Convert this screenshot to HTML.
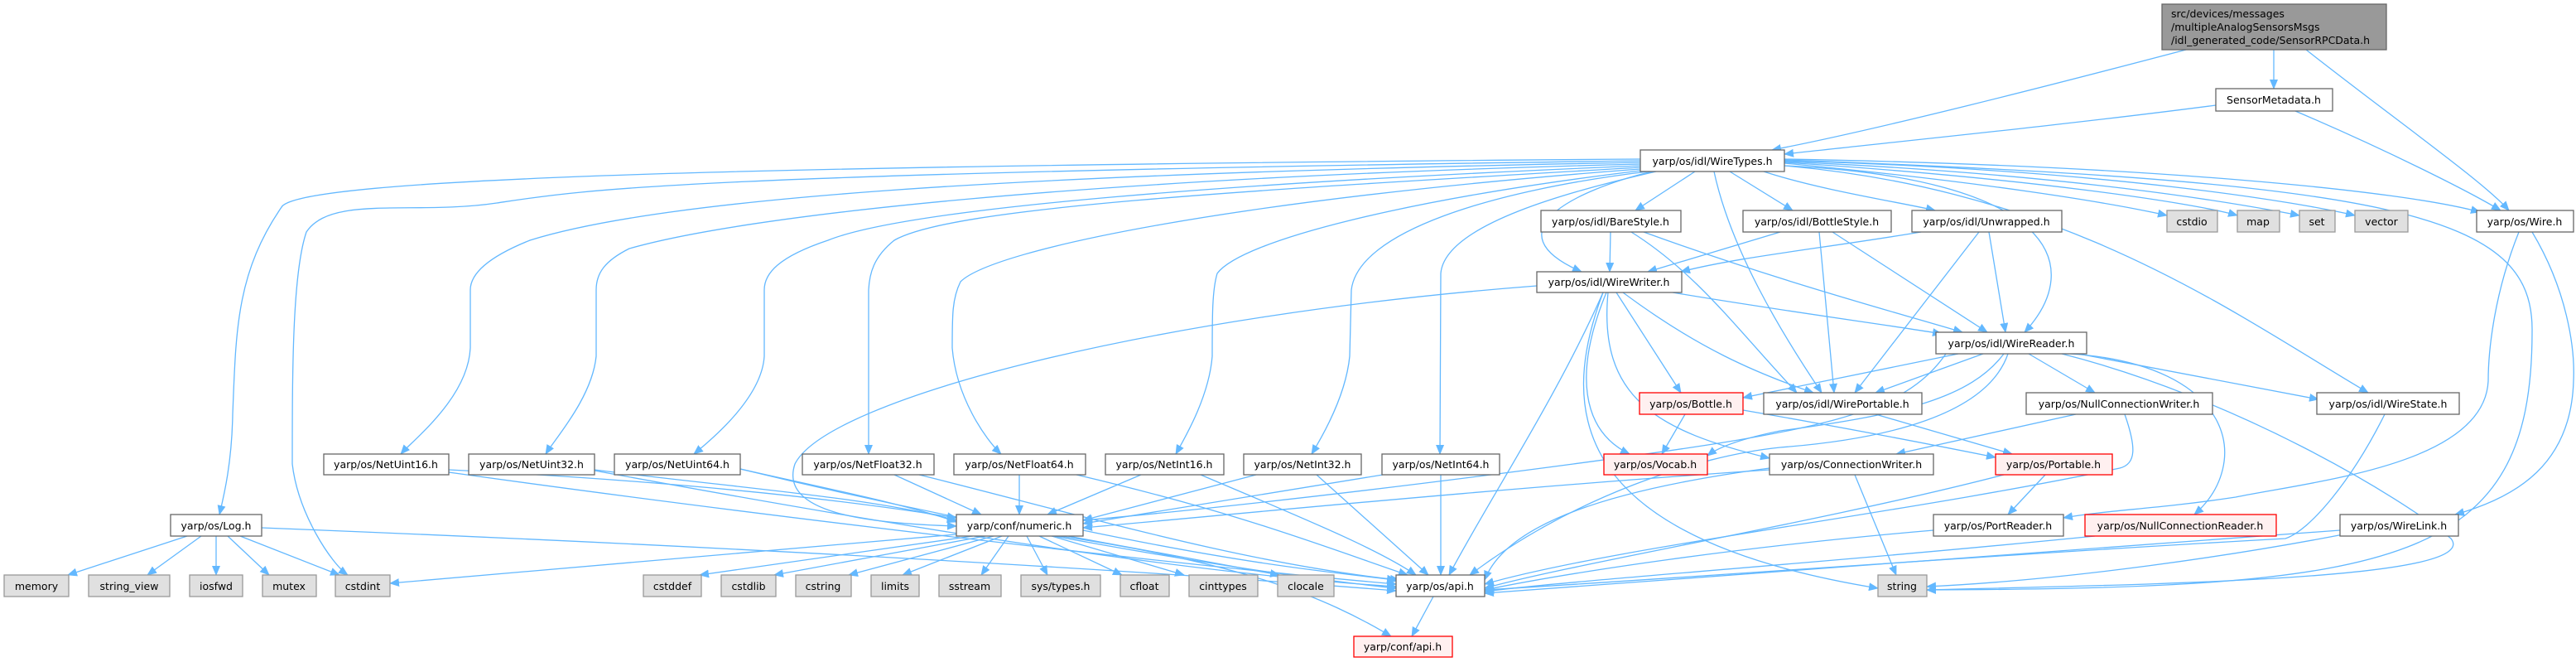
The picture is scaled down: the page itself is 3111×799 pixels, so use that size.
<!DOCTYPE html>
<html><head><meta charset="utf-8"><style>
html,body{margin:0;padding:0;background:#fff;}
svg{display:block;}
text{font-family:"DejaVu Sans","Liberation Sans",sans-serif;font-size:12.5px;fill:#000;}
.n{fill:#fff;stroke:#666;stroke-width:1.3;}
.g{fill:#e0e0e0;stroke:#999;stroke-width:1.3;}
.r{fill:#fff0f0;stroke:#f00;stroke-width:1.3;}
.t{fill:#999;stroke:#666;stroke-width:1.3;}
path{fill:none;stroke:#63b8ff;stroke-width:1.3;marker-end:url(#a);}
</style></head><body>
<svg width="3111" height="799" viewBox="0 0 3111 799" xmlns="http://www.w3.org/2000/svg">
<defs><marker id="a" markerUnits="userSpaceOnUse" markerWidth="12" markerHeight="10" refX="11" refY="5" orient="auto"><polygon points="0,0 12,5 0,10" fill="#63b8ff"/></marker></defs>
<g>
<path d="M2640,60 C2450,110 2250,160 2140,181"/>
<path d="M2746,60 L2746,107"/>
<path d="M2785,60 C2900,150 3000,220 3030,254"/>
<path d="M2676,127 C2500,150 2300,170 2155,186"/>
<path d="M2772,134 C2880,180 2980,230 3020,254"/>
<path d="M2155,192 C2600,200 2900,230 2995,256"/>
<path d="M2155,197 C2400,220 2550,245 2617,260"/>
<path d="M2155,196 C2450,215 2650,245 2702,260"/>
<path d="M2155,195 C2500,210 2700,245 2777,260"/>
<path d="M2155,194 C2550,205 2780,245 2844,260"/>
<path d="M2155,193 C2900,220 3060,260 3058,400 C3058,680 2900,710 2327,712"/>
<path d="M2155,200 C2500,230 2700,380 2860,474"/>
<path d="M2155,200 C2480,215 2520,320 2445,401"/>
<path d="M2047,207 L1975,254"/>
<path d="M2089,207 L2165,254"/>
<path d="M2130,207 C2200,230 2300,245 2337,254"/>
<path d="M1995,207 C1900,230 1800,280 1910,328"/>
<path d="M2070,207 C2090,300 2150,400 2200,474"/>
<path d="M1981,192 C900,200 360,215 340,250 C285,330 285,400 281,500 C280,560 270,600 265,621"/>
<path d="M1981,194 C800,210 700,230 600,245 C500,260 400,235 370,280 C353,330 353,450 353,560 C360,620 400,680 420,694"/>
<path d="M1981,196 C1200,210 800,240 640,290 C590,310 568,330 568,350 L568,420 C565,480 500,530 484,548"/>
<path d="M1981,198 C1300,215 900,260 760,300 C730,315 720,330 720,350 L720,430 C715,480 670,530 659,548"/>
<path d="M1981,200 C1500,220 1100,250 1000,290 C940,310 923,330 923,350 L923,430 C920,480 860,530 838,548"/>
<path d="M1981,202 C1500,230 1150,250 1080,290 C1055,310 1050,330 1049,350 L1049,548"/>
<path d="M1981,204 C1500,240 1200,300 1160,340 C1150,360 1150,380 1150,420 C1155,480 1190,530 1209,548"/>
<path d="M1981,206 C1700,240 1500,290 1470,330 C1464,350 1464,380 1464,430 C1460,480 1430,530 1420,548"/>
<path d="M1990,207 C1800,230 1640,280 1632,350 L1630,430 C1625,480 1595,530 1584,548"/>
<path d="M2000,207 C1900,230 1745,270 1740,330 L1739,548"/>
<path d="M1856,345 C1400,380 1000,480 960,560 C940,620 1050,632 1155,635"/>
<path d="M2020,353 C2150,375 2300,395 2345,403"/>
<path d="M1952,353 L2030,474"/>
<path d="M1960,353 C2050,420 2120,450 2190,474"/>
<path d="M1940,353 C1900,450 1910,520 1968,548"/>
<path d="M1942,353 C1930,480 2000,520 2137,553"/>
<path d="M1936,353 C1880,480 1800,600 1750,694"/>
<path d="M1936,353 C1880,500 1900,650 2268,710"/>
<path d="M1945,280 L1944,328"/>
<path d="M1970,280 C2050,330 2100,400 2170,474"/>
<path d="M1985,280 C2150,340 2300,380 2370,401"/>
<path d="M2150,280 L1990,328"/>
<path d="M2197,280 L2215,474"/>
<path d="M2213,280 L2400,401"/>
<path d="M2320,280 C2200,300 2100,310 2030,328"/>
<path d="M2402,280 L2422,401"/>
<path d="M2390,280 L2240,474"/>
<path d="M2365,427 L2105,480"/>
<path d="M2395,427 L2265,474"/>
<path d="M2450,427 L2530,474"/>
<path d="M2510,427 L2800,482"/>
<path d="M2420,427 C2380,480 2300,500 2150,520 C2100,530 2075,540 2062,550"/>
<path d="M2500,427 C2700,440 2720,560 2650,621"/>
<path d="M2490,427 C2700,480 2900,600 2960,650 C3000,700 2600,705 2327,712"/>
<path d="M2425,427 C2400,500 2280,530 2150,540 C2050,550 1900,600 1775,694"/>
<path d="M2350,427 C2300,500 2200,520 1900,560 C1600,600 1400,620 1308,628"/>
<path d="M2035,500 L2007,548"/>
<path d="M2105,495 C2250,520 2350,540 2410,552"/>
<path d="M2265,500 L2430,548"/>
<path d="M2507,500 L2290,548"/>
<path d="M2566,500 C2580,540 2580,560 2560,565 C2300,620 1950,660 1793,705"/>
<path d="M2137,567 C1800,590 1500,620 1308,637"/>
<path d="M2137,565 C1950,590 1820,630 1793,700"/>
<path d="M2240,573 L2290,694"/>
<path d="M2470,573 L2425,621"/>
<path d="M2420,573 C2200,630 1900,680 1793,710"/>
<path d="M2335,640 C2100,660 1900,690 1793,712"/>
<path d="M2530,647 C2200,680 1900,700 1793,714"/>
<path d="M2826,640 C2400,670 2000,700 1793,716"/>
<path d="M2830,645 C2700,670 2500,700 2327,708"/>
<path d="M3042,280 C3010,360 3005,430 3005,460 C3000,560 2800,580 2700,600 C2600,615 2550,615 2492,625"/>
<path d="M3058,280 C3100,350 3110,420 3108,460 C3105,560 3040,600 2965,621"/>
<path d="M2880,500 C2840,580 2790,640 2760,650 C2400,670 2000,700 1793,712"/>
<path d="M542,567 C800,580 1000,600 1155,625"/>
<path d="M542,570 C900,620 1400,680 1686,705"/>
<path d="M718,567 C900,590 1050,600 1155,628"/>
<path d="M718,568 C1000,620 1400,690 1686,708"/>
<path d="M894,566 C1000,590 1100,610 1155,630"/>
<path d="M894,566 C1200,640 1500,690 1686,710"/>
<path d="M1080,573 L1185,621"/>
<path d="M1110,573 C1300,620 1500,680 1690,700"/>
<path d="M1231,573 L1231,621"/>
<path d="M1300,573 C1500,620 1600,660 1700,694"/>
<path d="M1378,573 L1265,621"/>
<path d="M1450,573 C1560,620 1660,660 1710,694"/>
<path d="M1517,573 L1308,628"/>
<path d="M1590,573 L1725,694"/>
<path d="M1670,573 L1308,632"/>
<path d="M1740,573 L1740,694"/>
<path d="M226,647 L82,694"/>
<path d="M243,647 L178,694"/>
<path d="M261,647 L261,694"/>
<path d="M275,647 L325,694"/>
<path d="M290,647 L410,694"/>
<path d="M316,637 C900,660 1400,690 1686,713"/>
<path d="M1155,645 L471,704"/>
<path d="M1175,647 L845,694"/>
<path d="M1190,647 L935,694"/>
<path d="M1200,647 L1025,694"/>
<path d="M1210,647 L1090,694"/>
<path d="M1218,647 L1185,694"/>
<path d="M1240,647 L1265,694"/>
<path d="M1255,647 L1355,694"/>
<path d="M1270,647 L1430,694"/>
<path d="M1290,647 L1545,694"/>
<path d="M1308,640 C1500,680 1600,690 1686,700"/>
<path d="M1280,647 C1500,680 1600,720 1680,768"/>
<path d="M1731,720 L1705,768"/>
</g>
<g>
<rect class="t" x="2611" y="5" width="271" height="55"/>
<text x="2622" y="21">src/devices/messages</text>
<text x="2622" y="37">/multipleAnalogSensorsMsgs</text>
<text x="2622" y="53">/idl_generated_code/SensorRPCData.h</text>

<rect class="n" x="2676" y="107" width="141" height="27"/><text x="2746" y="125" text-anchor="middle">SensorMetadata.h</text>
<rect class="n" x="1981" y="181" width="174" height="26"/><text x="2068" y="199" text-anchor="middle">yarp/os/idl/WireTypes.h</text>

<rect class="n" x="1861" y="254" width="169" height="26"/><text x="1945" y="272" text-anchor="middle">yarp/os/idl/BareStyle.h</text>
<rect class="n" x="2105" y="254" width="179" height="26"/><text x="2194" y="272" text-anchor="middle">yarp/os/idl/BottleStyle.h</text>
<rect class="n" x="2309" y="254" width="181" height="26"/><text x="2399" y="272" text-anchor="middle">yarp/os/idl/Unwrapped.h</text>
<rect class="g" x="2617" y="254" width="61" height="26"/><text x="2647" y="272" text-anchor="middle">cstdio</text>
<rect class="g" x="2702" y="254" width="51" height="26"/><text x="2727" y="272" text-anchor="middle">map</text>
<rect class="g" x="2777" y="254" width="43" height="26"/><text x="2798" y="272" text-anchor="middle">set</text>
<rect class="g" x="2844" y="254" width="64" height="26"/><text x="2876" y="272" text-anchor="middle">vector</text>
<rect class="n" x="2991" y="254" width="117" height="26"/><text x="3049" y="272" text-anchor="middle">yarp/os/Wire.h</text>

<rect class="n" x="1856" y="328" width="175" height="25"/><text x="1943" y="345" text-anchor="middle">yarp/os/idl/WireWriter.h</text>
<rect class="n" x="2338" y="401" width="182" height="26"/><text x="2429" y="419" text-anchor="middle">yarp/os/idl/WireReader.h</text>

<rect class="r" x="1980" y="474" width="125" height="26"/><text x="2042" y="492" text-anchor="middle">yarp/os/Bottle.h</text>
<rect class="n" x="2130" y="474" width="191" height="26"/><text x="2225" y="492" text-anchor="middle">yarp/os/idl/WirePortable.h</text>
<rect class="n" x="2447" y="474" width="225" height="26"/><text x="2559" y="492" text-anchor="middle">yarp/os/NullConnectionWriter.h</text>
<rect class="n" x="2798" y="474" width="172" height="26"/><text x="2884" y="492" text-anchor="middle">yarp/os/idl/WireState.h</text>

<rect class="n" x="391" y="548" width="151" height="25"/><text x="466" y="565" text-anchor="middle">yarp/os/NetUint16.h</text>
<rect class="n" x="566" y="548" width="152" height="25"/><text x="642" y="565" text-anchor="middle">yarp/os/NetUint32.h</text>
<rect class="n" x="742" y="548" width="152" height="25"/><text x="818" y="565" text-anchor="middle">yarp/os/NetUint64.h</text>
<rect class="n" x="969" y="548" width="159" height="25"/><text x="1048" y="565" text-anchor="middle">yarp/os/NetFloat32.h</text>
<rect class="n" x="1152" y="548" width="159" height="25"/><text x="1231" y="565" text-anchor="middle">yarp/os/NetFloat64.h</text>
<rect class="n" x="1335" y="548" width="143" height="25"/><text x="1406" y="565" text-anchor="middle">yarp/os/NetInt16.h</text>
<rect class="n" x="1502" y="548" width="142" height="25"/><text x="1573" y="565" text-anchor="middle">yarp/os/NetInt32.h</text>
<rect class="n" x="1669" y="548" width="142" height="25"/><text x="1740" y="565" text-anchor="middle">yarp/os/NetInt64.h</text>
<rect class="r" x="1937" y="548" width="125" height="25"/><text x="1999" y="565" text-anchor="middle">yarp/os/Vocab.h</text>
<rect class="n" x="2137" y="548" width="198" height="25"/><text x="2236" y="565" text-anchor="middle">yarp/os/ConnectionWriter.h</text>
<rect class="r" x="2410" y="548" width="141" height="25"/><text x="2480" y="565" text-anchor="middle">yarp/os/Portable.h</text>

<rect class="n" x="206" y="621" width="110" height="26"/><text x="261" y="639" text-anchor="middle">yarp/os/Log.h</text>
<rect class="n" x="1155" y="621" width="153" height="26"/><text x="1231" y="639" text-anchor="middle">yarp/conf/numeric.h</text>
<rect class="n" x="2335" y="621" width="157" height="26"/><text x="2413" y="639" text-anchor="middle">yarp/os/PortReader.h</text>
<rect class="r" x="2518" y="621" width="231" height="26"/><text x="2633" y="639" text-anchor="middle">yarp/os/NullConnectionReader.h</text>
<rect class="n" x="2826" y="621" width="143" height="26"/><text x="2897" y="639" text-anchor="middle">yarp/os/WireLink.h</text>

<rect class="g" x="5" y="694" width="78" height="26"/><text x="44" y="712" text-anchor="middle">memory</text>
<rect class="g" x="107" y="694" width="98" height="26"/><text x="156" y="712" text-anchor="middle">string_view</text>
<rect class="g" x="229" y="694" width="64" height="26"/><text x="261" y="712" text-anchor="middle">iosfwd</text>
<rect class="g" x="317" y="694" width="65" height="26"/><text x="349" y="712" text-anchor="middle">mutex</text>
<rect class="g" x="405" y="694" width="66" height="26"/><text x="438" y="712" text-anchor="middle">cstdint</text>
<rect class="g" x="777" y="694" width="70" height="26"/><text x="812" y="712" text-anchor="middle">cstddef</text>
<rect class="g" x="871" y="694" width="66" height="26"/><text x="904" y="712" text-anchor="middle">cstdlib</text>
<rect class="g" x="961" y="694" width="67" height="26"/><text x="994" y="712" text-anchor="middle">cstring</text>
<rect class="g" x="1052" y="694" width="58" height="26"/><text x="1081" y="712" text-anchor="middle">limits</text>
<rect class="g" x="1134" y="694" width="75" height="26"/><text x="1171" y="712" text-anchor="middle">sstream</text>
<rect class="g" x="1233" y="694" width="96" height="26"/><text x="1281" y="712" text-anchor="middle">sys/types.h</text>
<rect class="g" x="1353" y="694" width="59" height="26"/><text x="1382" y="712" text-anchor="middle">cfloat</text>
<rect class="g" x="1436" y="694" width="83" height="26"/><text x="1477" y="712" text-anchor="middle">cinttypes</text>
<rect class="g" x="1543" y="694" width="68" height="26"/><text x="1577" y="712" text-anchor="middle">clocale</text>
<rect class="n" x="1686" y="694" width="107" height="26"/><text x="1739" y="712" text-anchor="middle">yarp/os/api.h</text>
<rect class="g" x="2268" y="694" width="59" height="26"/><text x="2297" y="712" text-anchor="middle">string</text>

<rect class="r" x="1635" y="768" width="119" height="25"/><text x="1694" y="785" text-anchor="middle">yarp/conf/api.h</text>
</g>
</svg>
</body></html>
